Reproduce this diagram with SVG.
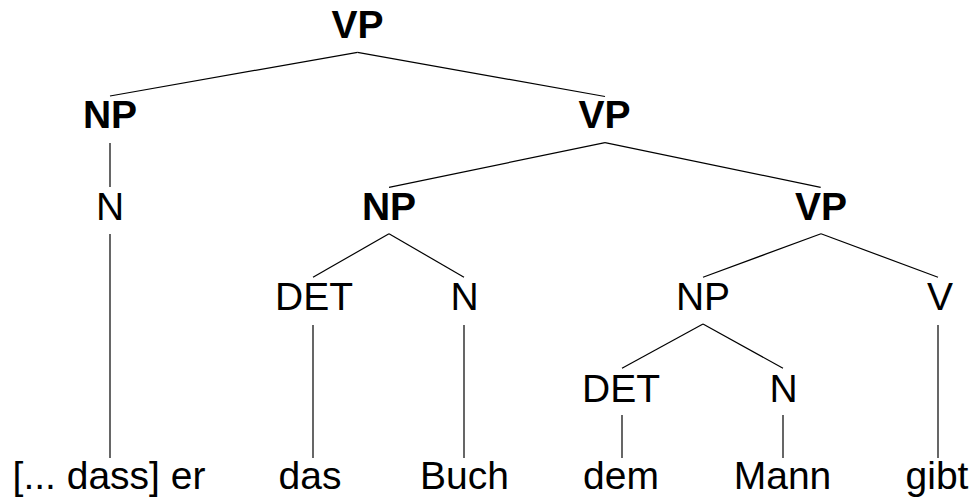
<svg xmlns="http://www.w3.org/2000/svg" width="972" height="499" viewBox="0 0 972 499">
  <style>
    .lbl { font-family: "Liberation Sans", Arial, sans-serif; font-size: 39px; fill: #000; text-anchor: middle; }
    .cat { font-weight: bold; }
    .edges line { stroke: #000; stroke-width: 1.2; fill: none; }
  </style>
  <rect width="972" height="499" fill="#fff"/>

  <!-- tree branches -->
  <g id="edges" class="edges">
    <line x1="357.5" y1="52.3" x2="110" y2="96"/>
    <line x1="357.5" y1="52.3" x2="605" y2="96.5"/>
    <line x1="110" y1="143" x2="110" y2="187"/>
    <line x1="110" y1="234" x2="110" y2="458"/>
    <line x1="605" y1="142.7" x2="389" y2="187.3"/>
    <line x1="605" y1="142.7" x2="820.7" y2="187.3"/>
    <line x1="389" y1="233.7" x2="313" y2="277.3"/>
    <line x1="389" y1="233.7" x2="464" y2="277.3"/>
    <line x1="313" y1="325" x2="313" y2="458"/>
    <line x1="464" y1="325" x2="464" y2="458"/>
    <line x1="821" y1="233.7" x2="703" y2="277.3"/>
    <line x1="821" y1="233.7" x2="938" y2="277.3"/>
    <line x1="703" y1="324" x2="622" y2="368.3"/>
    <line x1="703" y1="324" x2="783" y2="368.3"/>
    <line x1="622" y1="415" x2="622" y2="458"/>
    <line x1="783" y1="415" x2="783" y2="458"/>
    <line x1="938" y1="325" x2="938" y2="458"/>
  </g>

  <!-- phrase and word nodes -->
  <g id="vp1"><text class="lbl cat" x="357.5" y="38">VP</text></g>
  <g id="np1"><text class="lbl cat" x="110" y="128">NP</text></g>
  <g id="vp2"><text class="lbl cat" x="604.5" y="128">VP</text></g>
  <g id="n1"><text class="lbl" x="110" y="220">N</text></g>
  <g id="np2"><text class="lbl cat" x="389" y="220">NP</text></g>
  <g id="vp3"><text class="lbl cat" x="821" y="220">VP</text></g>
  <g id="det1"><text class="lbl" x="314" y="310">DET</text></g>
  <g id="n2"><text class="lbl" x="464.5" y="310">N</text></g>
  <g id="np3"><text class="lbl" x="703" y="310">NP</text></g>
  <g id="v1"><text class="lbl" x="940" y="310">V</text></g>
  <g id="det2"><text class="lbl" x="621" y="402">DET</text></g>
  <g id="n3"><text class="lbl" x="783.5" y="402">N</text></g>
  <g id="w-er"><text class="lbl" x="109" y="489">[... dass] er</text></g>
  <g id="w-das"><text class="lbl" x="310" y="489">das</text></g>
  <g id="w-buch"><text class="lbl" x="464.5" y="489">Buch</text></g>
  <g id="w-dem"><text class="lbl" x="621" y="489">dem</text></g>
  <g id="w-mann"><text class="lbl" x="782.5" y="489">Mann</text></g>
  <g id="w-gibt"><text class="lbl" x="937" y="489">gibt</text></g>
</svg>
